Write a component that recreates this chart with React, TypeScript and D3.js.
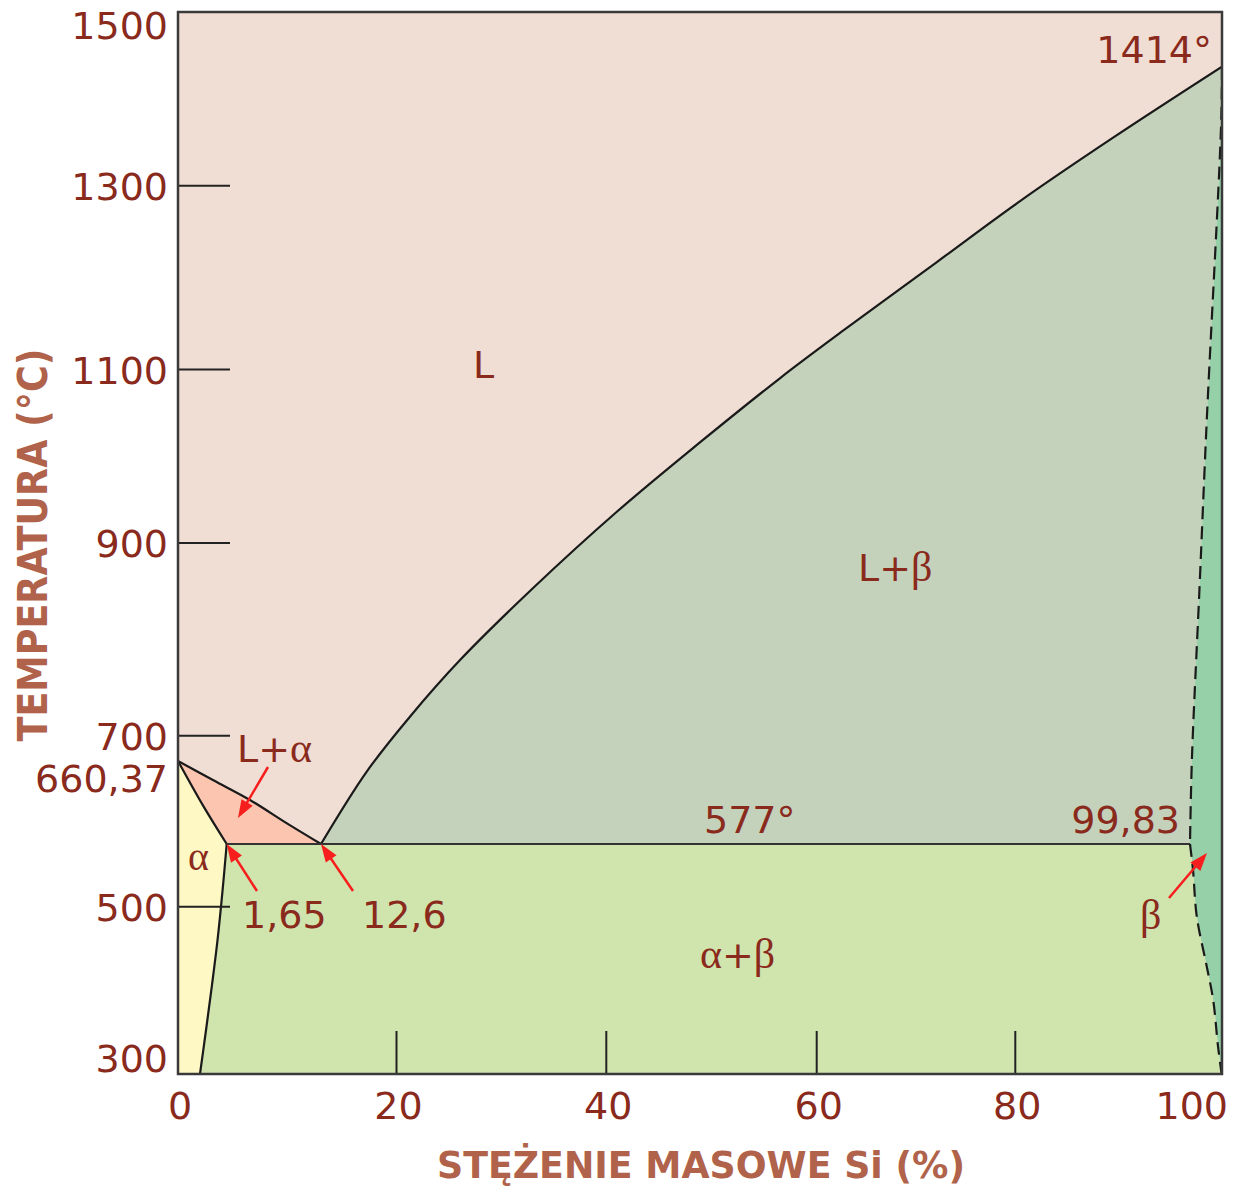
import React from 'react'
import * as d3 from 'd3'

// axis ticks
const tempTicks = [300, 500, 700, 900, 1100, 1300, 1500]
const tempMarks = [500, 700, 900, 1100, 1300]
const siTicks = [0, 20, 40, 60, 80, 100]
const siMarks = [20, 40, 60, 80]

// key points of the Al-Si system (annotated on the diagram)
const T_AL = 660.37
const T_EUT = 577
const T_SI = 1414
const C_ALPHA = 1.65
const C_EUT = 12.6
const C_BETA = 99.83
const T_MIN = 279
const T_MAX = 1527

// phase boundaries, [wt% Si, °C]
const liquidusAl = [[0, 660.37], [1.2, 641], [4.4, 621], [8.6, 598], [12.6, 577]]
const solidusAl = [[0, 660.37], [0.86, 615], [1.65, 577]]
const solvusAl = [[1.65, 577], [1.51, 520], [1.34, 456], [1.15, 396], [0.95, 337], [0.745, 279]]
const liquidusSi = [
  [12.6, 577], [17.1, 650], [21.3, 720], [26.1, 779], [33.0, 853], [41.0, 936], [48.9, 1016],
  [56.5, 1090], [63.0, 1145], [72.1, 1217], [80.5, 1283], [91.1, 1346], [100, 1414],
]
const betaUpper = [[100, 1414], [99.995, 1357], [99.92, 1046], [99.88, 851], [99.84, 662], [99.83, 577]]
const betaLower = [[99.83, 577], [99.846, 545], [99.866, 487], [99.919, 421], [99.953, 377], [99.979, 315], [99.998, 279]]
const eutectic = [[C_ALPHA, T_EUT], [C_BETA, T_EUT]]

const COL = {
  L: '#f0ded4',
  LB: '#c4d2bc',
  LA: '#fbc5b0',
  A: '#fef8c5',
  AB: '#d0e4ae',
  B: '#96d0a8',
  text: '#8a2a1c',
  title: '#b0634a',
  arrow: '#f71e1e',
  line: '#1a1a1a',
}

const FONT = 'DejaVu Sans, sans-serif'
const GREEK = 'Liberation Serif, DejaVu Serif, serif'

// the drawing is schematic: scale is stretched around the annotated points
const x = d3.scaleLinear()
  .domain([0, C_ALPHA, C_EUT, 20, 40, 60, 80, C_BETA, 100])
  .range([178, 226.7, 321, 396.5, 606.3, 816.7, 1015.3, 1190, 1222])
const y = d3.scaleLinear()
  .domain([T_MIN, 300, 500, T_EUT, T_AL, 700, 900, 1100, 1300, T_SI, T_MAX])
  .range([1074, 1058, 906.7, 844, 761, 735.7, 543, 369.6, 185.7, 66.7, 12])

const lineGen = d3.line<number[]>()
  .x((d) => x(d[0]))
  .y((d) => y(d[1]))
  .curve(d3.curveCatmullRom.alpha(0.5))

const join = (...segs: number[][][]) =>
  segs.map((s, i) => {
    const p = lineGen(s) || ''
    return i ? 'L' + p.slice(1) : p
  }).join('') + 'Z'

const rev = (a: number[][]) => a.slice().reverse()

const Arrow = ({ x1, y1, x2, y2 }) => {
  const a = Math.atan2(y2 - y1, x2 - x1)
  const hl = 18
  const hw = 6.5
  const bx = x2 - hl * Math.cos(a)
  const by = y2 - hl * Math.sin(a)
  const px = -Math.sin(a) * hw
  const py = Math.cos(a) * hw
  return (
    <g>
      <line x1={x1} y1={y1} x2={bx + 2 * Math.cos(a)} y2={by + 2 * Math.sin(a)} stroke={COL.arrow} strokeWidth={2.5} />
      <polygon points={`${x2},${y2} ${bx + px},${by + py} ${bx - px},${by - py}`} fill={COL.arrow} />
    </g>
  )
}

const App = () => {
  const x0 = x(0)
  const x1 = x(100)
  const yTop = y(T_MAX)
  const yBot = y(T_MIN)

  const pathLB = join(liquidusSi, betaUpper, rev(eutectic))
  const pathB = join(betaUpper, betaLower, [[100, T_MIN], [100, T_SI]])
  const pathAB = join(eutectic, betaLower, rev(solvusAl))
  const pathA = join(solidusAl, solvusAl, [[0, T_MIN], [0, T_AL]])
  const pathLA = join(liquidusAl, [[C_EUT, T_EUT], [C_ALPHA, T_EUT]], rev(solidusAl))

  const label = { fill: COL.text, fontFamily: FONT, fontSize: 38 }

  return (
    <svg width={1237} height={1188} style={{ position: 'absolute', left: 0, top: 0, background: '#fff' }}>
      <defs>
        <clipPath id="plot">
          <rect x={x0} y={yTop} width={x1 - x0} height={yBot - yTop} />
        </clipPath>
      </defs>

      <g clipPath="url(#plot)">
        <rect x={x0} y={yTop} width={x1 - x0} height={yBot - yTop} fill={COL.L} />
        <path d={pathLB} fill={COL.LB} />
        <path d={pathB} fill={COL.B} />
        <path d={pathAB} fill={COL.AB} />
        <path d={pathA} fill={COL.A} />
        <path d={pathLA} fill={COL.LA} />

        <path d={lineGen(liquidusSi)} fill="none" stroke={COL.line} strokeWidth={2.2} />
        <path d={lineGen(liquidusAl)} fill="none" stroke={COL.line} strokeWidth={2.2} />
        <path d={lineGen(solidusAl)} fill="none" stroke={COL.line} strokeWidth={2.2} />
        <path d={lineGen(solvusAl)} fill="none" stroke={COL.line} strokeWidth={2.2} />
        <path d={lineGen(eutectic)} fill="none" stroke="#333" strokeWidth={2.2} />
        <path d={lineGen(betaUpper)} fill="none" stroke={COL.line} strokeWidth={2.2} strokeDasharray="13,7" />
        <path d={lineGen(betaLower)} fill="none" stroke={COL.line} strokeWidth={2.2} strokeDasharray="13,7" />

        {tempMarks.map((t) => (
          <line key={t} x1={x0} x2={x0 + 52} y1={y(t)} y2={y(t)} stroke="#222" strokeWidth={2} />
        ))}
        {siMarks.map((c) => (
          <line key={c} x1={x(c)} x2={x(c)} y1={yBot} y2={yBot - 43} stroke="#222" strokeWidth={2} />
        ))}
      </g>

      <rect x={x0} y={yTop} width={x1 - x0} height={yBot - yTop} fill="none" stroke="#3a3a3a" strokeWidth={2.5} />

      {/* tick labels */}
      {tempTicks.map((t) => (
        <text key={t} x={168} y={y(t) + 14} textAnchor="end" {...label}>{t}</text>
      ))}
      <text x={168} y={y(T_AL) + 31} textAnchor="end" {...label}>660,37</text>
      {siTicks.map((c) => (
        <text
          key={c}
          x={c === 100 ? x(c) + 6 : x(c) + 2}
          y={1119}
          textAnchor={c === 100 ? 'end' : 'middle'}
          {...label}
        >
          {c}
        </text>
      ))}

      {/* axis titles */}
      <text
        x={701}
        y={1178}
        textAnchor="middle"
        textLength={528}
        lengthAdjust="spacingAndGlyphs"
        fill={COL.title}
        fontFamily="DejaVu Sans Condensed, DejaVu Sans, sans-serif"
        fontWeight="bold"
        fontSize={38}
      >
        STĘŻENIE MASOWE Si (%)
      </text>
      <text
        transform="translate(47,545) rotate(-90)"
        textAnchor="middle"
        textLength={393}
        lengthAdjust="spacingAndGlyphs"
        fill={COL.title}
        fontFamily="DejaVu Sans Condensed, DejaVu Sans, sans-serif"
        fontWeight="bold"
        fontSize={40}
      >
        TEMPERATURA (°C)
      </text>

      {/* region and point annotations */}
      <text x={473} y={378} {...label}>L</text>
      <text x={858} y={581} {...label}>
        L+<tspan fontFamily={GREEK} fontSize={42}>β</tspan>
      </text>
      <text x={237} y={762} {...label}>
        L+<tspan fontFamily={GREEK} fontSize={42}>α</tspan>
      </text>
      <text x={188} y={870} {...label} fontFamily={GREEK} fontSize={40}>α</text>
      <text x={700} y={968} {...label}>
        <tspan fontFamily={GREEK} fontSize={42}>α</tspan>+<tspan fontFamily={GREEK} fontSize={42}>β</tspan>
      </text>
      <text x={1140} y={929} {...label} fontFamily={GREEK} fontSize={42}>β</text>
      <text x={x(100) - 10} y={y(T_SI) - 4} textAnchor="end" {...label}>1414°</text>
      <text x={704} y={y(T_EUT) - 11} {...label}>577°</text>
      <text x={x(C_BETA) - 10} y={y(T_EUT) - 11} textAnchor="end" {...label}>99,83</text>
      <text x={242} y={928} {...label}>1,65</text>
      <text x={362} y={928} {...label}>12,6</text>

      {/* arrows */}
      <Arrow x1={268} y1={767} x2={238} y2={818} />
      <Arrow x1={257} y1={891} x2={x(C_ALPHA)} y2={y(T_EUT)} />
      <Arrow x1={353} y1={891} x2={x(C_EUT)} y2={y(T_EUT)} />
      <Arrow x1={1169} y1={898} x2={1207} y2={853} />
    </svg>
  )
}

export default App
